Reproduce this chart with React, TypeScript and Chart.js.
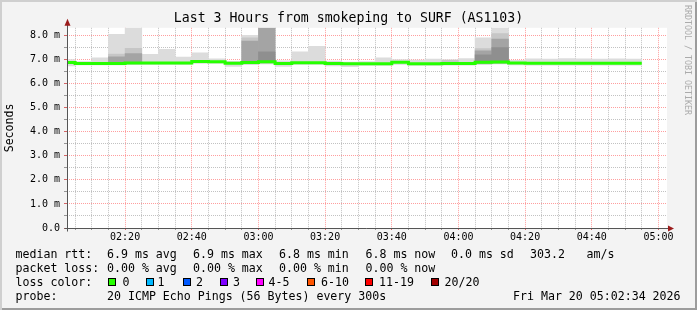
import React, { useEffect, useRef } from 'react';
import { Chart, registerables } from 'chart.js';

Chart.register(...registerables);

const FONT = '"DejaVu Sans Mono", monospace';

// ---- data ----
const graphStart = '02:02:34';
const graphEnd = '05:02:34';
const stepMinutes = 5;

const titleText = 'Last 3 Hours from smokeping to SURF (AS1103)';
const yAxisTitle = 'Seconds';

// RRD step end times (each value covers the 5 minutes before it)
const times = [
  '02:05', '02:10', '02:15', '02:20', '02:25', '02:30', '02:35', '02:40', '02:45', '02:50',
  '02:55', '03:00', '03:05', '03:10', '03:15', '03:20', '03:25', '03:30', '03:35', '03:40',
  '03:45', '03:50', '03:55', '04:00', '04:05', '04:10', '04:15', '04:20', '04:25', '04:30',
  '04:35', '04:40', '04:45', '04:50', '04:55',
];

// median rtt in ms
const medianRtt = [
  6.88, 6.84, 6.84, 6.84, 6.86, 6.86, 6.86, 6.86, 6.92, 6.91,
  6.85, 6.88, 6.91, 6.84, 6.87, 6.87, 6.84, 6.83, 6.83, 6.83,
  6.89, 6.83, 6.83, 6.84, 6.84, 6.89, 6.90, 6.86, 6.85, 6.85,
  6.85, 6.85, 6.85, 6.85, 6.85,
];

// lightest smoke: min .. max ping (ms)
const smokeLow = [
  6.74, 6.78, 6.78, 6.78, 6.80, 6.80, 6.80, 6.80, 6.84, 6.84,
  6.72, 6.80, 6.82, 6.72, 6.80, 6.80, 6.74, 6.71, 6.76, 6.76,
  6.80, 6.76, 6.76, 6.77, 6.77, 6.80, 6.82, 6.78, 6.77, 6.77,
  6.77, 6.77, 6.77, 6.77, 6.77,
];
const smokeHigh = [
  7.00, 6.92, 7.07, 8.05, 8.32, 7.22, 7.43, 7.10, 7.28, 7.03,
  6.93, 8.01, 8.32, 6.95, 7.32, 7.55, 6.94, 6.90, 6.92, 7.07,
  7.00, 6.98, 7.02, 7.00, 7.04, 7.90, 8.32, 6.97, 7.03, 7.02,
  7.04, 7.03, 7.02, 7.03, 7.02,
];
// inner smoke bands [low, high] (ms), null where not visible
const smokeMid = [
  null, null, null, [6.80, 7.23], [6.82, 7.47], null, null, null, null, null,
  null, [6.82, 7.90], null, null, null, null, null, null, null, null,
  null, null, null, [6.80, 6.97], null, [6.82, 7.46], [6.84, 8.08], null, null, null,
  null, null, null, null, null,
];
const smokeDark = [
  null, null, null, [6.82, 7.12], [6.84, 7.25], null, null, null, null, null,
  null, [6.84, 7.77], [6.86, 8.32], null, null, null, null, null, null, null,
  null, null, null, null, null, [6.84, 7.36], [6.86, 7.85], null, null, null,
  null, null, null, null, null,
];
const smokeDarker = [
  null, null, null, null, null, null, null, null, null, null,
  null, null, [6.88, 7.32], null, null, null, null, null, null, null,
  null, null, null, null, null, [6.86, 7.20], [6.88, 7.50], null, null, null,
  null, null, null, null, null,
];

const yMax = 8.32;
const yTickValues = [0, 0.5, 1, 1.5, 2, 2.5, 3, 3.5, 4, 4.5, 5, 5.5, 6, 6.5, 7, 7.5, 8];
const yTickLabels = ['0.0', '1.0 m', '2.0 m', '3.0 m', '4.0 m', '5.0 m', '6.0 m', '7.0 m', '8.0 m'];
const xTickLabels = ['02:20', '02:40', '03:00', '03:20', '03:40', '04:00', '04:20', '04:40', '05:00'];

const rttStats = ['6.9 ms avg', '6.9 ms max', '6.8 ms min', '6.8 ms now', '0.0 ms sd', '303.2', 'am/s'];
const lossStats = ['0.00 % avg', '0.00 % max', '0.00 % min', '0.00 % now'];
const lossLabels = ['0', '1', '2', '3', '4-5', '6-10', '11-19', '20/20'];
const lossColors = ['#26ff00', '#00b8ff', '#0059ff', '#7e00ff', '#ff00ff', '#ff5500', '#ff0000', '#a10000'];
const probeText = '20 ICMP Echo Pings (56 Bytes) every 300s';
const stampText = 'Fri Mar 20 05:02:34 2026';
const watermark = 'RRDTOOL / TOBI OETIKER';

// ---- helpers ----
const toMin = (s: string) => {
  const p = s.split(':').map(Number);
  return p[0] * 60 + p[1] + (p[2] || 0) / 60;
};
const xMin = toMin(graphStart);
const xMax = toMin(graphEnd);

const MAJOR = 'rgba(255,0,0,0.38)';
const MINOR = 'rgba(110,110,110,0.42)';
const MAJOR_TICK = 'rgba(200,40,40,0.7)';
const MINOR_TICK = 'rgba(110,110,110,0.7)';

const bandData = (bands: (number[] | null)[]) =>
  bands
    .map((b, i) => (b ? { x: toMin(times[i]) - stepMinutes / 2, y: b } : null))
    .filter(Boolean);

const smokeDataset = (label: string, data: any[], color: string, order: number) => ({
  type: 'bar',
  label,
  data,
  backgroundColor: color,
  borderWidth: 0,
  grouped: false,
  barPercentage: 1,
  categoryPercentage: 1,
  order,
});

const bgPlugin = {
  id: 'plotBg',
  beforeDraw(chart: any) {
    const { ctx, chartArea: a } = chart;
    ctx.save();
    ctx.fillStyle = '#ffffff';
    ctx.fillRect(a.left, a.top, a.right - a.left, a.bottom - a.top);
    ctx.restore();
  },
};

const axisPlugin = {
  id: 'axisArrows',
  afterDraw(chart: any) {
    const { ctx, chartArea: a } = chart;
    const x0 = Math.round(a.left) + 0.5;
    const y0 = Math.round(a.bottom) + 0.5;
    ctx.save();
    ctx.strokeStyle = '#555555';
    ctx.lineWidth = 1;
    ctx.beginPath();
    ctx.moveTo(x0, y0 + 3);
    ctx.lineTo(x0, a.top - 3);
    ctx.moveTo(x0 - 3, y0);
    ctx.lineTo(a.right + 2, y0);
    ctx.stroke();
    ctx.fillStyle = '#9b1c1c';
    ctx.beginPath();
    ctx.moveTo(x0, a.top - 9);
    ctx.lineTo(x0 - 3, a.top - 2);
    ctx.lineTo(x0 + 3, a.top - 2);
    ctx.closePath();
    ctx.fill();
    ctx.beginPath();
    ctx.moveTo(a.right + 7, y0);
    ctx.lineTo(a.right + 1, y0 - 3);
    ctx.lineTo(a.right + 1, y0 + 3);
    ctx.closePath();
    ctx.fill();
    ctx.restore();
  },
};

export default function App() {
  const canvasRef = useRef<HTMLCanvasElement>(null);

  useEffect(() => {
    const canvas = canvasRef.current;
    if (!canvas) return;

    const xGrid: number[] = [];
    for (let m = Math.ceil(xMin / stepMinutes) * stepMinutes; m <= xMax; m += stepMinutes) xGrid.push(m);

    const medianData = [
      { x: toMin(times[0]) - stepMinutes, y: medianRtt[0] },
      ...times.map((t, i) => ({ x: toMin(t), y: medianRtt[i] })),
    ];

    const lightBands = smokeLow.map((lo, i) => [lo, smokeHigh[i]]);

    const chart = new Chart(canvas, {
      type: 'bar',
      data: {
        datasets: [
          {
            type: 'line',
            label: 'median rtt',
            data: medianData,
            borderColor: '#26ff00',
            borderWidth: 3,
            pointRadius: 0,
            stepped: 'after',
            fill: false,
            order: 0,
          } as any,
          smokeDataset('smoke 4', bandData(smokeDarker), '#8f8f8f', 1),
          smokeDataset('smoke 3', bandData(smokeDark), '#a4a4a4', 2),
          smokeDataset('smoke 2', bandData(smokeMid), '#c6c6c6', 3),
          smokeDataset('smoke 1', bandData(lightBands), '#dcdcdc', 4),
        ],
      },
      options: {
        responsive: false,
        animation: false,
        devicePixelRatio: 1,
        events: [],
        layout: { padding: { left: 0, right: 0, top: 0, bottom: 0 } },
        plugins: {
          legend: { display: false },
          tooltip: { enabled: false },
          title: {
            display: true,
            text: titleText,
            color: '#000000',
            font: { family: FONT, size: 13.2, weight: 'normal', lineHeight: 1.2 },
            padding: { top: 11, bottom: 1 },
          },
        },
        scales: {
          x: {
            type: 'linear',
            min: xMin,
            max: xMax,
            offset: false,
            afterBuildTicks: (s: any) => {
              s.ticks = xGrid.map((v) => ({ value: v }));
            },
            afterFit: (s: any) => {
              s.height = 82;
            },
            ticks: {
              autoSkip: false,
              maxRotation: 0,
              minRotation: 0,
              padding: 1,
              color: '#000000',
              font: { family: FONT, size: 10 },
              callback: (v: any) => {
                const l = xTickLabels.find((t) => Math.abs(toMin(t) - Number(v)) < 0.01);
                return l ?? '';
              },
            },
            grid: {
              offset: false,
              lineWidth: 1,
              drawTicks: true,
              tickLength: 2,
              color: (c: any) => (c.tick && c.tick.value % 20 === 0 ? MAJOR : MINOR),
              tickColor: (c: any) => (c.tick && c.tick.value % 20 === 0 ? MAJOR_TICK : MINOR_TICK),
            },
            border: { display: false, dash: [1, 1] },
          },
          y: {
            type: 'linear',
            position: 'left',
            min: 0,
            max: yMax,
            afterBuildTicks: (s: any) => {
              s.ticks = yTickValues.map((v) => ({ value: v }));
            },
            afterFit: (s: any) => {
              s.width = 67;
            },
            ticks: {
              autoSkip: false,
              padding: 4,
              color: '#000000',
              font: { family: FONT, size: 10 },
              callback: (v: any) => (Number.isInteger(Number(v)) ? yTickLabels[Number(v)] : ''),
            },
            grid: {
              lineWidth: 1,
              drawTicks: true,
              tickLength: 3,
              color: (c: any) => (c.tick && Number.isInteger(c.tick.value) ? MAJOR : MINOR),
              tickColor: (c: any) => (c.tick && Number.isInteger(c.tick.value) ? MAJOR_TICK : MINOR_TICK),
            },
            border: { display: false, dash: [1, 1] },
            title: {
              display: true,
              text: yAxisTitle,
              color: '#000000',
              font: { family: FONT, size: 11.6 },
              padding: { top: 3, bottom: 0 },
            },
          },
          // empty right-hand margin so the plot ends where rrdtool's does
          yMargin: {
            type: 'linear',
            position: 'right',
            display: true,
            min: 0,
            max: yMax,
            afterFit: (s: any) => {
              s.width = 30;
            },
            ticks: { display: false },
            grid: { display: false, drawOnChartArea: false, drawTicks: false },
            border: { display: false },
          },
        },
      },
      plugins: [bgPlugin, axisPlugin],
    } as any);

    return () => chart.destroy();
  }, []);

  const rowTop = [246.5, 260.5, 274.5, 288.5];
  const rttX = [107, 193, 279, 365.5, 451, 530, 586.5];
  const lossX = [107, 193, 279, 365.5];
  const boxX = [108, 145.5, 182.5, 219.5, 256, 306.5, 365, 431];
  const boxLabelX = [122.5, 157.5, 196, 233, 268.5, 321, 379, 444.5];

  const txt = (text: string, left: number, top: number, key: string) => (
    <span
      key={key}
      style={{
        position: 'absolute',
        left,
        top,
        fontFamily: FONT,
        fontSize: 11.6,
        lineHeight: '14px',
        color: '#000',
        whiteSpace: 'pre',
      }}
    >
      {text}
    </span>
  );

  return (
    <div
      style={{
        position: 'fixed',
        left: 0,
        top: 0,
        width: 697,
        height: 310,
        background: '#f3f3f3',
        boxShadow: 'inset 2px 2px 0 #cfcfcf, inset -2px -2px 0 #9c9c9c',
        overflow: 'hidden',
      }}
    >
      <canvas
        ref={canvasRef}
        width={697}
        height={310}
        style={{ position: 'absolute', left: 0, top: 0, width: 697, height: 310 }}
      />
      {txt('median rtt:', 15.5, rowTop[0], 'l1')}
      {rttStats.map((s, i) => txt(s, rttX[i], rowTop[0], 'r' + i))}
      {txt('packet loss:', 15.5, rowTop[1], 'l2')}
      {lossStats.map((s, i) => txt(s, lossX[i], rowTop[1], 'p' + i))}
      {txt('loss color:', 15.5, rowTop[2], 'l3')}
      {lossLabels.map((s, i) => (
        <React.Fragment key={'lc' + i}>
          <span
            style={{
              position: 'absolute',
              left: boxX[i],
              top: 278,
              width: 8,
              height: 8,
              boxSizing: 'border-box',
              border: '1px solid #000',
              background: lossColors[i],
            }}
          />
          {txt(s, boxLabelX[i], rowTop[2], 'lt' + i)}
        </React.Fragment>
      ))}
      {txt('probe:', 15.5, rowTop[3], 'l4')}
      {txt(probeText, 107, rowTop[3], 'pr')}
      {txt(stampText, 513, rowTop[3], 'st')}
      <span
        style={{
          position: 'absolute',
          left: 684,
          top: 5,
          writingMode: 'vertical-rl',
          fontFamily: FONT,
          fontSize: 8.3,
          lineHeight: 1,
          color: '#ababab',
          whiteSpace: 'pre',
        }}
      >
        {watermark}
      </span>
    </div>
  );
}
